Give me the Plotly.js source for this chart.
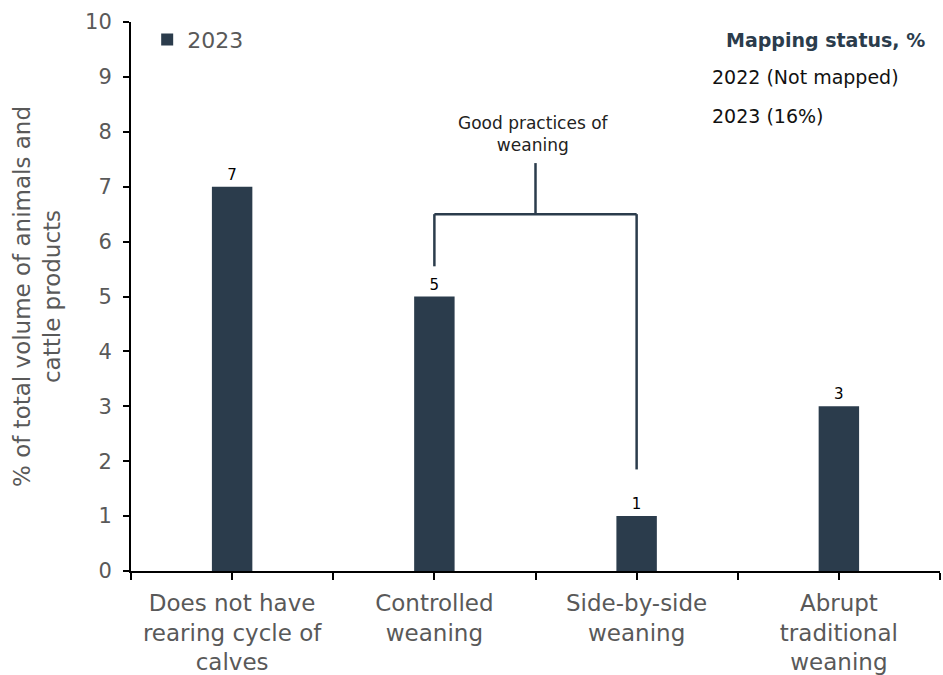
<!DOCTYPE html>
<html><head><meta charset="utf-8">
<script src="https://cdn.plot.ly/plotly-3.0.1.min.js"></script>
<style>body{margin:0}#c{width:943px;height:675px}</style>
</head><body><div id="c"></div>
<script>
const categories = ["Does not have<br>rearing cycle of<br>calves", "Controlled<br>weaning", "Side-by-side<br>weaning", "Abrupt<br>traditional<br>weaning"];
const values2023 = [7, 5, 1, 3];
const seriesName = "2023";
const yTicks = [0,1,2,3,4,5,6,7,8,9,10];

const xIdx = categories.map((_, i) => i);
const tickvals = [], ticktext = [];
for (let i = 0; i < categories.length; i++) {
  tickvals.push(i - 0.5); ticktext.push("");
  tickvals.push(i); ticktext.push(categories[i]);
}
tickvals.push(categories.length - 0.5); ticktext.push("");

const FONT = "'DejaVu Sans', sans-serif";
const dark = "#2b3c4c";
const trace = {
  type: "bar", x: xIdx, y: values2023, name: seriesName,
  marker: {color: dark}, width: 0.2,
  text: values2023.map(String), textposition: "outside",
  textfont: {family: FONT, size: 15, color: "#000"},
  cliponaxis: false
};
const lineStyle = {color: dark, width: 2.5};
const layout = {
  width: 943, height: 675,
  margin: {l: 131, r: 3, t: 22, b: 104},
  paper_bgcolor: "#fff", plot_bgcolor: "#fff",
  font: {family: FONT, color: "#595959"},
  showlegend: true,
  legend: {x: 0.02, y: 1.006, xanchor: "left", yanchor: "top", font: {size: 22, color: "#595959"}, bgcolor: "rgba(0,0,0,0)", itemwidth: 30},
  xaxis: {range: [-0.5, 3.5], tickvals: tickvals, ticktext: ticktext, ticks: "outside", ticklen: 7, tickwidth: 2, tickcolor: "#000",
    showline: true, linecolor: "#000", linewidth: 2, showgrid: false, zeroline: false,
    ticklabelstandoff: 3,
    tickfont: {size: 23, color: "#595959"}},
  yaxis: {range: [0, 10], tickvals: yTicks, ticks: "outside", ticklen: 6, tickwidth: 2, tickcolor: "#000",
    showline: true, linecolor: "#000", linewidth: 2, showgrid: false, zeroline: false,
    ticklabelstandoff: 7,
    tickfont: {size: 21, color: "#595959"},
    title: {text: "% of total volume of animals and<br>cattle products", font: {size: 23, color: "#595959"}, standoff: 18}},
  shapes: [
    {type: "line", xref: "x", yref: "y", x0: 1, x1: 1, y0: 5.55, y1: 6.5, line: lineStyle},
    {type: "line", xref: "x", yref: "y", x0: 1, x1: 2, y0: 6.5, y1: 6.5, line: lineStyle},
    {type: "line", xref: "x", yref: "y", x0: 2, x1: 2, y0: 6.5, y1: 1.85, line: lineStyle},
    {type: "line", xref: "x", yref: "y", x0: 1.5, x1: 1.5, y0: 6.5, y1: 7.43, line: lineStyle}
  ],
  annotations: [
    {xref: "x", yref: "y", x: 1.49, y: 7.55, yanchor: "bottom", showarrow: false,
     text: "Good practices of<br>weaning", font: {size: 17, color: "#222"}},
    {xref: "paper", yref: "paper", x: 0.984, y: 0.967, xanchor: "right", yanchor: "middle", showarrow: false,
     text: "<b>Mapping status, %</b>", font: {size: 19, color: "#2b3c4c"}},
    {xref: "paper", yref: "paper", x: 0.716, y: 0.900, xanchor: "left", yanchor: "middle", showarrow: false,
     text: "2022 (Not mapped)", font: {size: 19, color: "#111"}},
    {xref: "paper", yref: "paper", x: 0.716, y: 0.829, xanchor: "left", yanchor: "middle", showarrow: false,
     text: "2023 (16%)", font: {size: 19, color: "#111"}}
  ]
};
Plotly.newPlot("c", [trace], layout, {displayModeBar: false, staticPlot: true});
</script></body></html>
